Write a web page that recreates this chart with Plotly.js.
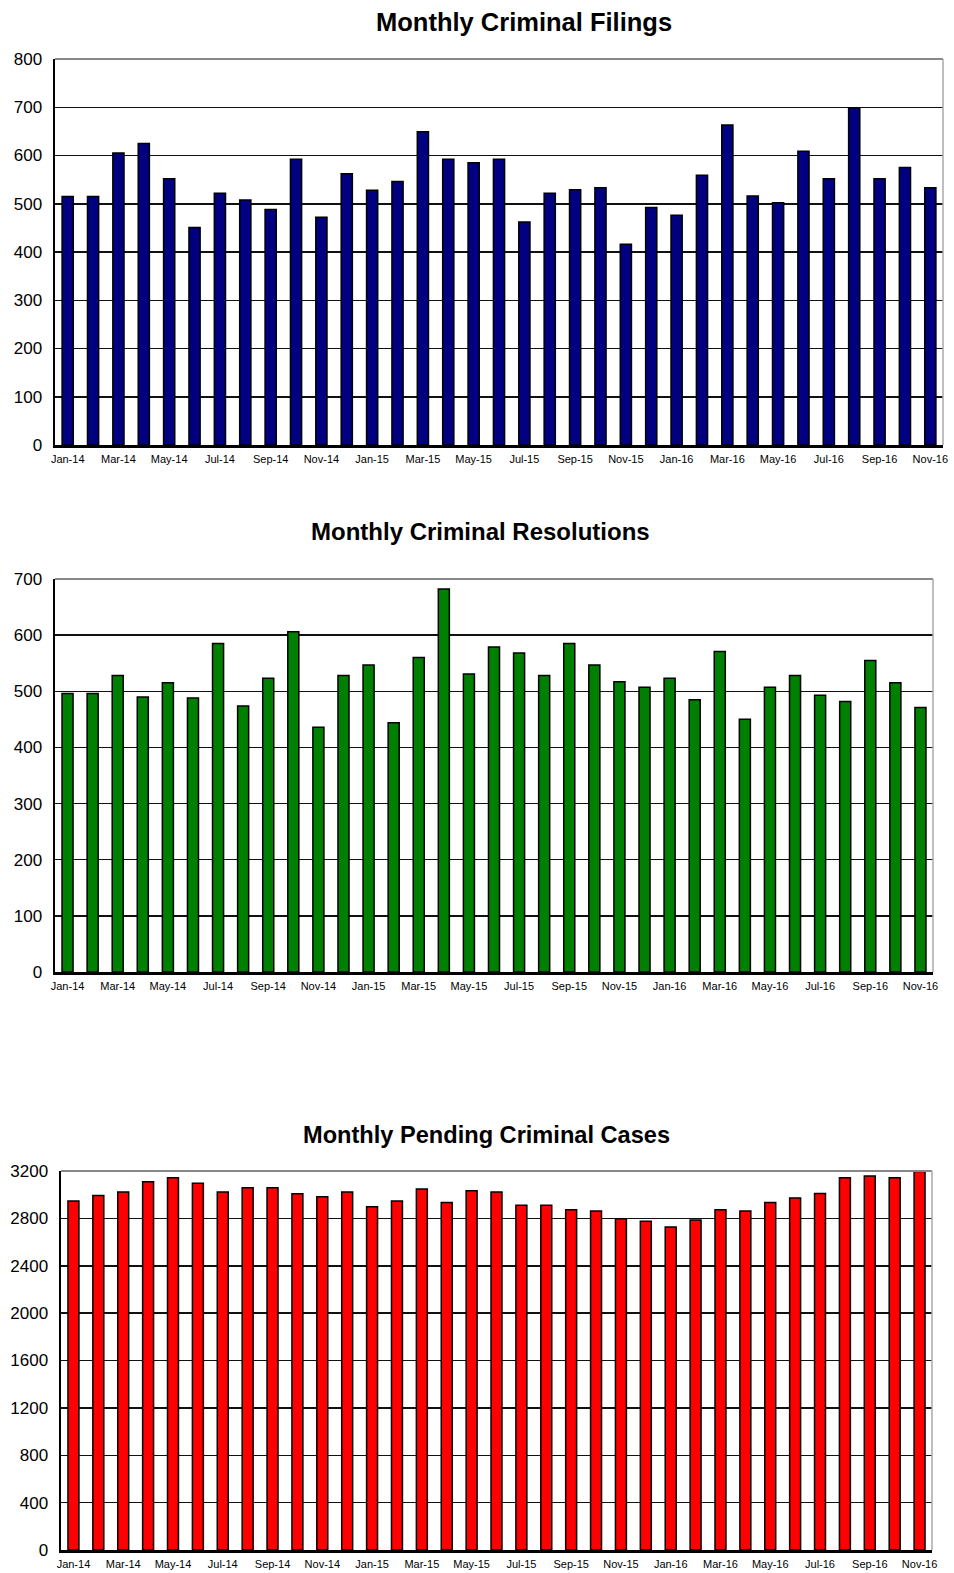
<!DOCTYPE html>
<html>
<head>
<meta charset="utf-8">
<script src="https://cdn.plot.ly/plotly-3.0.1.min.js"></script>
<style>
html,body{margin:0;padding:0;background:#fff;}
#chart{width:954px;height:1573px;}
</style>
</head>
<body>
<div id="chart"></div>
<script>
const months = ["Jan-14","Feb-14","Mar-14","Apr-14","May-14","Jun-14","Jul-14","Aug-14","Sep-14","Oct-14","Nov-14","Dec-14",
  "Jan-15","Feb-15","Mar-15","Apr-15","May-15","Jun-15","Jul-15","Aug-15","Sep-15","Oct-15","Nov-15","Dec-15",
  "Jan-16","Feb-16","Mar-16","Apr-16","May-16","Jun-16","Jul-16","Aug-16","Sep-16","Oct-16","Nov-16"];

const filings = [515,515,605,625,552,451,522,508,488,592,472,562,
  528,546,649,592,585,592,462,522,529,533,416,492,
  476,559,663,516,502,609,552,699,552,575,533];

const resolutions = [496,496,528,490,515,488,585,474,523,606,436,528,
  547,444,560,682,531,579,568,528,585,547,517,507,
  523,485,571,450,507,528,493,482,555,515,471];

const pending = [2946,2994,3023,3110,3144,3096,3023,3059,3059,3008,2983,3023,
  2899,2946,3048,2935,3034,3023,2910,2910,2873,2862,2797,2775,
  2727,2786,2873,2862,2935,2972,3011,3144,3158,3144,3196];

const titles = ["Monthly Criminal Filings","Monthly Criminal Resolutions","Monthly Pending Criminal Cases"];
const tickMonths = months.filter((m,i)=>i%2===0);

const W = 954, H = 1573;
const FONT = "Liberation Sans, Arial, Helvetica, sans-serif";

function px2x(a,b){return [a/W,b/W];}
function px2y(top,bottom){return [(H-bottom)/H,(H-top)/H];}

const panels = [
  {y: filings, color:"#000080", x:px2x(55,943), yd:px2y(59,445), range:[0,800], dtick:100, title:titles[0], tx:524, ty:22, ts:25.5},
  {y: resolutions, color:"#008000", x:px2x(55,933), yd:px2y(579,972), range:[0,700], dtick:100, title:titles[1], tx:480, ty:531, ts:24},
  {y: pending, color:"#FF0000", x:px2x(61,932), yd:px2y(1171,1550), range:[0,3200], dtick:400, title:titles[2], tx:487, ty:1135, ts:23.6}
];

const data = [];
const layout = {
  width: W, height: H,
  margin:{l:0,r:0,t:0,b:0},
  paper_bgcolor:"#fff", plot_bgcolor:"#fff",
  showlegend:false,
  bargap:0.56,
  annotations:[], shapes:[],
  font:{family:FONT, color:"#000"}
};

panels.forEach((p,i)=>{
  const n = i===0 ? "" : String(i+1);
  data.push({
    type:"bar", x:months, y:p.y,
    xaxis:"x"+n, yaxis:"y"+n,
    marker:{color:p.color, line:{color:"#000", width:1.5}},
    hoverinfo:"x+y"
  });
  layout["xaxis"+n] = {
    domain:p.x, anchor:"y"+n, type:"category",
    tickmode:"array", tickvals:tickMonths, ticktext:tickMonths,
    tickangle:0,
    showline:true, linecolor:"#000", linewidth:2.5,
    showgrid:false, ticks:"", ticklabelstandoff:2,
    tickfont:{family:FONT, size:11, color:"#000"},
    fixedrange:true
  };
  layout["yaxis"+n] = {
    domain:p.yd, anchor:"x"+n, range:p.range, dtick:p.dtick, tick0:0,
    showline:true, linecolor:"#000", linewidth:2.5,
    showgrid:true, gridcolor:"#111", gridwidth:1.5,
    zeroline:false, ticks:"", ticklabelstandoff:7,
    tickfont:{family:FONT, size:17, color:"#000"},
    fixedrange:true
  };
  layout.shapes.push({type:"line", xref:"x"+n+" domain", yref:"y"+n+" domain", x0:0, x1:1, y0:1, y1:1,
    line:{color:"#888", width:2}, layer:"above"});
  layout.shapes.push({type:"line", xref:"x"+n+" domain", yref:"y"+n+" domain", x0:1, x1:1, y0:0, y1:1,
    line:{color:"#aaa", width:1.5}, layer:"above"});
  layout.annotations.push({
    text:"<b>"+p.title+"</b>", xref:"paper", yref:"paper",
    x:p.tx/W, y:(H-p.ty)/H, xanchor:"center", yanchor:"middle", showarrow:false,
    font:{family:FONT, size:p.ts, color:"#000"}
  });
});

Plotly.newPlot("chart", data, layout, {displayModeBar:false, staticPlot:true});
</script>
</body>
</html>
